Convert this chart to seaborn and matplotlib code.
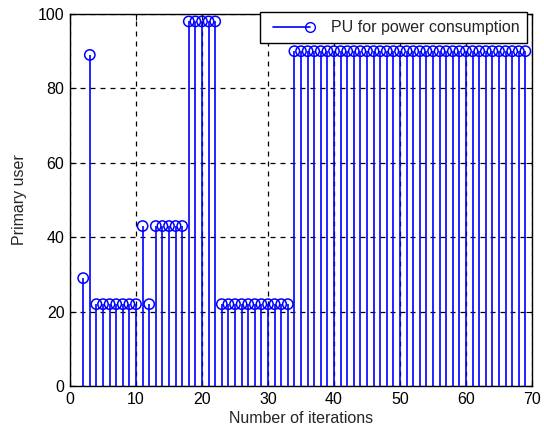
import numpy as np
import pandas as pd
import matplotlib
matplotlib.use("Agg")
import matplotlib.pyplot as plt
import seaborn as sns
from matplotlib.lines import Line2D
from matplotlib.legend_handler import HandlerLine2D

# iterations and primary-user values
iterations = list(range(2, 70))
pu_values = ([29, 89] + [22] * 7 + [43, 22] + [43] * 5 + [98] * 5
             + [22] * 11 + [90] * 36)

df = pd.DataFrame({"iter": iterations, "pu": pu_values})


class EndMarkerHandler(HandlerLine2D):
    # legend line with the circle only at its right end (matlab stem style)
    def create_artists(self, legend, orig_handle, xdescent, ydescent,
                       width, height, fontsize, trans):
        arts = super().create_artists(legend, orig_handle, xdescent, ydescent,
                                      width, height, fontsize, trans)
        for a in arts:
            n = len(a.get_xdata())
            if a.get_marker() not in (None, "None", ""):
                a.set_markevery([n - 1])
        return arts


sns.set_style("ticks")
plt.rcParams['font.family'] = ['Liberation Sans', 'DejaVu Sans']

fig = plt.figure(figsize=(5.44, 4.37), dpi=100)
ax = fig.add_axes([70 / 544, 1 - 386 / 437, 462 / 544, 372 / 437])

# stems
ax.vlines(df["iter"], 0, df["pu"], color="blue", lw=1.2, zorder=3)
# circle heads
sns.scatterplot(data=df, x="iter", y="pu", ax=ax, marker="o", s=55,
                facecolors="none", edgecolor="blue", linewidth=1.1,
                zorder=4, legend=False)

ax.set_xlim(0, 70)
ax.set_ylim(0, 100)
ax.set_xticks(np.arange(0, 71, 10))
ax.set_yticks(np.arange(0, 101, 20))
ax.grid(True, color="black", linestyle=(0, (4, 4)), lw=0.9)
ax.set_axisbelow(True)
for s in ax.spines.values():
    s.set_color("black")
    s.set_linewidth(1.0)
ax.tick_params(direction="in", length=4, labelsize=11.5, colors="black",
               top=True, right=True, pad=4)

ax.set_xlabel("Number of iterations", fontsize=11.5, labelpad=3)
ax.set_ylabel("Primary user", fontsize=11.5, labelpad=8)

handle = Line2D([0, 1], [0, 0], color="blue", lw=1.2, marker="o",
                markersize=7, markerfacecolor="none", markeredgecolor="blue")
leg = ax.legend([handle], ["PU for power consumption"], loc="upper right",
                bbox_to_anchor=(0.99, 1.005), numpoints=2, handlelength=2.9,
                fontsize=11.5, fancybox=False, framealpha=1,
                edgecolor="black", borderaxespad=0.0, borderpad=0.5,
                handletextpad=1.0, handler_map={Line2D: EndMarkerHandler()})
leg.get_frame().set_linewidth(1.0)

fig.savefig("out.png", dpi=100)
